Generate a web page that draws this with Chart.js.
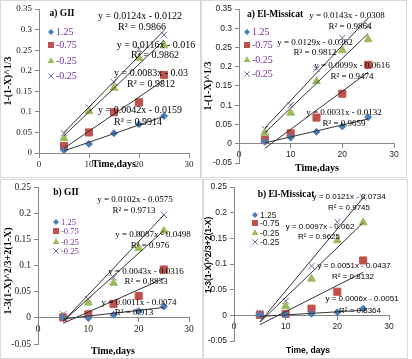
<!DOCTYPE html>
<html>
<head>
<meta charset="utf-8">
<script src="https://cdn.jsdelivr.net/npm/chart.js@4.4.1/dist/chart.umd.min.js"></script>
<style>
  body { margin: 0; background: #fff; width: 412px; height: 359px; position: relative; overflow: hidden; }
  .panel { position: absolute; }
</style>
</head>
<body>
<div class="panel" style="left:0;top:0"><canvas id="c1" width="201" height="178"></canvas></div>
<div class="panel" style="left:201px;top:0"><canvas id="c2" width="206" height="178"></canvas></div>
<div class="panel" style="left:0;top:179px"><canvas id="c3" width="203" height="180"></canvas></div>
<div class="panel" style="left:203px;top:179px"><canvas id="c4" width="205" height="180"></canvas></div>
<script>
// Leaching kinetics plots, four panels

const days = [5, 10, 15, 20, 25];
const seriesNames = ['1.25', '-0.75', '-0.25', '-0.25'];
const xTicks = [0, 10, 20, 30];
const yTicksA1 = [0, 0.05, 0.1, 0.15, 0.2, 0.25, 0.3, 0.35];
const yTicksA2 = [-0.05, 0, 0.05, 0.1, 0.15, 0.2, 0.25, 0.3, 0.35];
const yTicksB = [-0.05, 0, 0.05, 0.1, 0.15, 0.2, 0.25];

// a) GII
const aGII_1 = [0.007, 0.022, 0.048, 0.070, 0.090];
const aGII_2 = [0.017, 0.050, 0.099, 0.123, 0.190];
const aGII_3 = [0.036, 0.101, 0.158, 0.231, 0.261];
const aGII_4 = [0.048, 0.110, 0.172, 0.252, 0.287];
const aGII_slope = [0.0042, 0.0083, 0.0116, 0.0124];
const aGII_icpt = [-0.0159, -0.03, -0.016, -0.0122];
const aGII_r2 = ['0.9914', '0.9812', '0.9862', '0.9866'];

// a) El-Missicat
const aEM_1 = [0.005, 0.016, 0.031, 0.045, 0.069];
const aEM_2 = [0.010, 0.027, 0.068, 0.130, 0.205];
const aEM_3 = [0.028, 0.080, 0.162, 0.243, 0.271];
const aEM_4 = [0.038, 0.100, 0.195, 0.275, 0.307];
const aEM_slope = [0.0031, 0.0099, 0.0129, 0.0143];
const aEM_icpt = [-0.0132, -0.0616, -0.0362, -0.0308];
const aEM_r2 = ['0.9659', '0.9474', '0.9812', '0.9864'];

// b) GII
const bGII_1 = [0.001, 0.000, 0.006, 0.013, 0.022];
const bGII_2 = [0.001, 0.007, 0.027, 0.042, 0.093];
const bGII_3 = [0.002, 0.029, 0.067, 0.134, 0.167];
const bGII_4 = [0.007, 0.036, 0.078, 0.162, 0.198];
const bGII_slope = [0.0011, 0.0043, 0.0087, 0.0102];
const bGII_icpt = [-0.0074, -0.0316, -0.0498, -0.0575];
const bGII_r2 = ['0.913', '0.8833', '0.976', '0.9713'];

// b) El-Missicat
const bEM_1 = [0.001, 0.001, 0.003, 0.006, 0.013];
const bEM_2 = [0.001, 0.003, 0.013, 0.046, 0.107];
const bEM_3 = [0.002, 0.018, 0.071, 0.146, 0.181];
const bEM_4 = [0.005, 0.028, 0.096, 0.182, 0.230];
const bEM_slope = [0.0006, 0.0051, 0.0097, 0.0121];
const bEM_icpt = [-0.0051, -0.0437, -0.062, -0.0734];
const bEM_r2 = ['0.8364', '0.8132', '0.9625', '0.9745'];

const COLORS = ['#4a7ebb', '#c0504d', '#9bbb59', '#8064a2'];
const STYLES = ['rectRot', 'rect', 'triangle', 'crossRot'];
const RADII = [3.5, 5, 4.5, 4.5];
const AXIS = '#868686';
const SERIF = '"Liberation Serif", "Times New Roman", serif';
const SANS = '"Liberation Sans", Arial, sans-serif';

function drawMarker(ctx, style, color, x, y, r) {
  ctx.save();
  ctx.fillStyle = color;
  ctx.strokeStyle = color;
  ctx.lineWidth = 1;
  ctx.beginPath();
  if (style === 'rectRot') {
    ctx.moveTo(x, y - r); ctx.lineTo(x + r, y); ctx.lineTo(x, y + r); ctx.lineTo(x - r, y);
    ctx.closePath(); ctx.fill();
  } else if (style === 'rect') {
    const s = r * Math.SQRT1_2;
    ctx.rect(x - s, y - s, 2 * s, 2 * s); ctx.fill();
  } else if (style === 'triangle') {
    ctx.moveTo(x, y - r); ctx.lineTo(x + r * 0.87, y + r * 0.5); ctx.lineTo(x - r * 0.87, y + r * 0.5);
    ctx.closePath(); ctx.fill();
  } else {
    const s = r * Math.SQRT1_2;
    ctx.moveTo(x - s, y - s); ctx.lineTo(x + s, y + s);
    ctx.moveTo(x + s, y - s); ctx.lineTo(x - s, y + s);
    ctx.stroke();
  }
  ctx.restore();
}

// overlay: frame, title, legend, equations, axis titles
function makeDeco(p) {
  return {
    id: 'deco' + p.id,
    beforeDraw(chart) {
      const ctx = chart.ctx;
      ctx.save();
      ctx.fillStyle = '#fff';
      ctx.fillRect(0, 0, chart.width, chart.height);
      ctx.restore();
    },
    afterDraw(chart) {
      const ctx = chart.ctx;
      const a = chart.chartArea;
      ctx.save();
      ctx.strokeStyle = '#d9d9d9';
      ctx.lineWidth = 1;
      ctx.strokeRect(0.5, 0.5, chart.width - 1, chart.height - 1);

      ctx.fillStyle = '#000';
      ctx.textAlign = 'center';
      ctx.textBaseline = 'middle';
      ctx.font = 'bold 9.5px ' + SERIF;
      ctx.fillText(p.title, p.titlePos[0], p.titlePos[1]);

      // legend
      ctx.textAlign = 'left';
      ctx.font = p.legendFont;
      seriesNames.forEach((name, i) => {
        const y = p.legendRows[i];
        drawMarker(ctx, STYLES[i], COLORS[i], p.legendX, y, RADII[i] * 0.85);
        ctx.fillStyle = p.legendColor;
        ctx.fillText(name, p.legendX + 5, y + 0.5);
      });

      // trendline equations
      ctx.fillStyle = '#000';
      ctx.textAlign = 'center';
      ctx.font = p.eqFont;
      p.slope.forEach((m, i) => {
        const b = p.icpt[i];
        const eq = 'y = ' + m + 'x ' + (b < 0 ? '- ' : '+ ') + Math.abs(b);
        ctx.fillText(eq, p.eqPos[i][0], p.eqPos[i][1]);
        ctx.fillText('R\u00b2 = ' + p.r2[i], p.r2Pos[i][0], p.r2Pos[i][1]);
      });

      // axis titles
      ctx.font = p.axisFont;
      ctx.fillText(p.xTitle, p.xTitlePos[0], p.xTitlePos[1]);
      ctx.translate(p.yTitlePos[0], p.yTitlePos[1] !== null ? p.yTitlePos[1] : (a.top + a.bottom) / 2);
      ctx.rotate(-Math.PI / 2);
      ctx.fillText(p.yTitle, 0, 0);
      ctx.restore();
    }
  };
}

function buildChart(p) {
  const datasets = [];
  p.series.forEach((vals, i) => {
    datasets.push({
      type: 'scatter',
      data: days.map((d, k) => ({ x: d, y: vals[k] })),
      pointStyle: STYLES[i],
      pointRadius: RADII[i],
      backgroundColor: COLORS[i],
      borderColor: COLORS[i],
      pointBorderWidth: 1,
      order: 1,
    });
  });
  p.slope.forEach((m, i) => {
    const x0 = days[0], x1 = days[days.length - 1];
    datasets.push({
      type: 'line',
      data: [{ x: x0, y: m * x0 + p.icpt[i] }, { x: x1, y: m * x1 + p.icpt[i] }],
      borderColor: '#333',
      borderWidth: 1,
      pointRadius: 0,
      fill: false,
      order: 0,
    });
  });

  const tickFont = { family: p.tickFamily, size: p.tickSize };
  return new Chart(document.getElementById(p.id), {
    data: { datasets },
    options: {
      responsive: false,
      animation: false,
      events: [],
      layout: { padding: { top: p.area.top, right: p.area.right, bottom: p.area.bottom, left: 0 } },
      plugins: { legend: { display: false }, tooltip: { enabled: false } },
      scales: {
        x: {
          type: 'linear',
          min: 0,
          max: 30,
          position: { y: 0 },
          afterBuildTicks: (s) => { s.ticks = xTicks.map((v) => ({ value: v })); },
          afterFit: (s) => { s.paddingLeft = 0; s.paddingRight = 0; },
          grid: { drawOnChartArea: false, color: AXIS, tickLength: 4 },
          border: { color: AXIS },
          ticks: { font: tickFont, color: '#222', padding: 2, maxRotation: 0, autoSkip: false },
        },
        y: {
          type: 'linear',
          min: p.yTicks[0],
          max: p.yTicks[p.yTicks.length - 1],
          afterBuildTicks: (s) => { s.ticks = p.yTicks.map((v) => ({ value: v })); },
          afterFit: (s) => { s.width = p.area.left; },
          grid: { drawOnChartArea: false, color: AXIS, tickLength: 4 },
          border: { color: AXIS },
          ticks: {
            font: tickFont,
            color: '#222',
            padding: 3,
            autoSkip: false,
            callback: (v) => String(Math.round(v * 100) / 100),
          },
        },
      },
    },
    plugins: [makeDeco(p)],
  });
}

buildChart({
  id: 'c1', title: 'a) GII', titlePos: [62, 14],
  series: [aGII_1, aGII_2, aGII_3, aGII_4],
  slope: aGII_slope, icpt: aGII_icpt, r2: aGII_r2,
  yTicks: yTicksA1,
  area: { left: 39, top: 9, right: 12, bottom: 25 },
  tickFamily: SERIF, tickSize: 9,
  legendX: 51, legendRows: [32, 45, 61, 76], legendFont: '10px ' + SERIF, legendColor: '#7030a0',
  eqFont: '10px ' + SERIF,
  eqPos: [[140, 110], [151, 73], [156, 45], [140, 16]],
  r2Pos: [[138, 122], [151, 84], [155, 55], [142, 27]],
  axisFont: 'bold 10px ' + SERIF,
  xTitle: 'Time,days', xTitlePos: [114, 164],
  yTitle: '1-(1-X)^1/3', yTitlePos: [8, null],
});

buildChart({
  id: 'c2', title: 'a) El-Missicat', titlePos: [74, 15],
  series: [aEM_1, aEM_2, aEM_3, aEM_4],
  slope: aEM_slope, icpt: aEM_icpt, r2: aEM_r2,
  yTicks: yTicksA2,
  area: { left: 38, top: 9, right: 13, bottom: 15 },
  tickFamily: SANS, tickSize: 8.5,
  legendX: 46, legendRows: [32, 45, 60, 74], legendFont: '10px ' + SERIF, legendColor: '#7030a0',
  eqFont: '9px ' + SERIF,
  eqPos: [[143, 113], [151, 66], [114, 43], [146, 16]],
  r2Pos: [[143, 124], [151, 77], [114, 53], [149, 27]],
  axisFont: 'bold 10px ' + SERIF,
  xTitle: 'Time,days', xTitlePos: [116, 168],
  yTitle: '1-(1-X)^1/3', yTitlePos: [7, null],
});

buildChart({
  id: 'c3', title: 'b) GII', titlePos: [66, 14],
  series: [bGII_1, bGII_2, bGII_3, bGII_4],
  slope: bGII_slope, icpt: bGII_icpt, r2: bGII_r2,
  yTicks: yTicksB,
  area: { left: 38, top: 7, right: 14, bottom: 15 },
  tickFamily: SERIF, tickSize: 9.5,
  legendX: 56, legendRows: [43, 52, 63, 72], legendFont: '8.5px ' + SERIF, legendColor: '#7030a0',
  eqFont: '9px ' + SERIF,
  eqPos: [[139, 124], [146, 93], [153, 56], [135, 21]],
  r2Pos: [[134, 134], [146, 103], [150, 67], [134, 32]],
  axisFont: 'bold 10px ' + SERIF,
  xTitle: 'Time,days', xTitlePos: [113, 172],
  yTitle: '1-3(1-X)^2/3+2(1-X)', yTitlePos: [8, 92],
});

buildChart({
  id: 'c4', title: 'b) El-Missicat', titlePos: [83, 16],
  series: [bEM_1, bEM_2, bEM_3, bEM_4],
  slope: bEM_slope, icpt: bEM_icpt, r2: bEM_r2,
  yTicks: yTicksB,
  area: { left: 31, top: 7, right: 19, bottom: 18 },
  tickFamily: SANS, tickSize: 8.5,
  legendX: 52, legendRows: [36, 44, 54, 63], legendFont: '8.5px ' + SANS, legendColor: '#222',
  eqFont: '8px ' + SANS,
  eqPos: [[159, 120], [151, 87], [117, 48], [146, 18]],
  r2Pos: [[157, 132], [150, 98], [116, 58], [146, 29]],
  axisFont: 'bold 8.5px ' + SANS,
  xTitle: 'Time, days', xTitlePos: [105, 172],
  yTitle: '1-3(1-X)^2/3+2(1-X)', yTitlePos: [6, 76],
});
</script>
</body>
</html>
